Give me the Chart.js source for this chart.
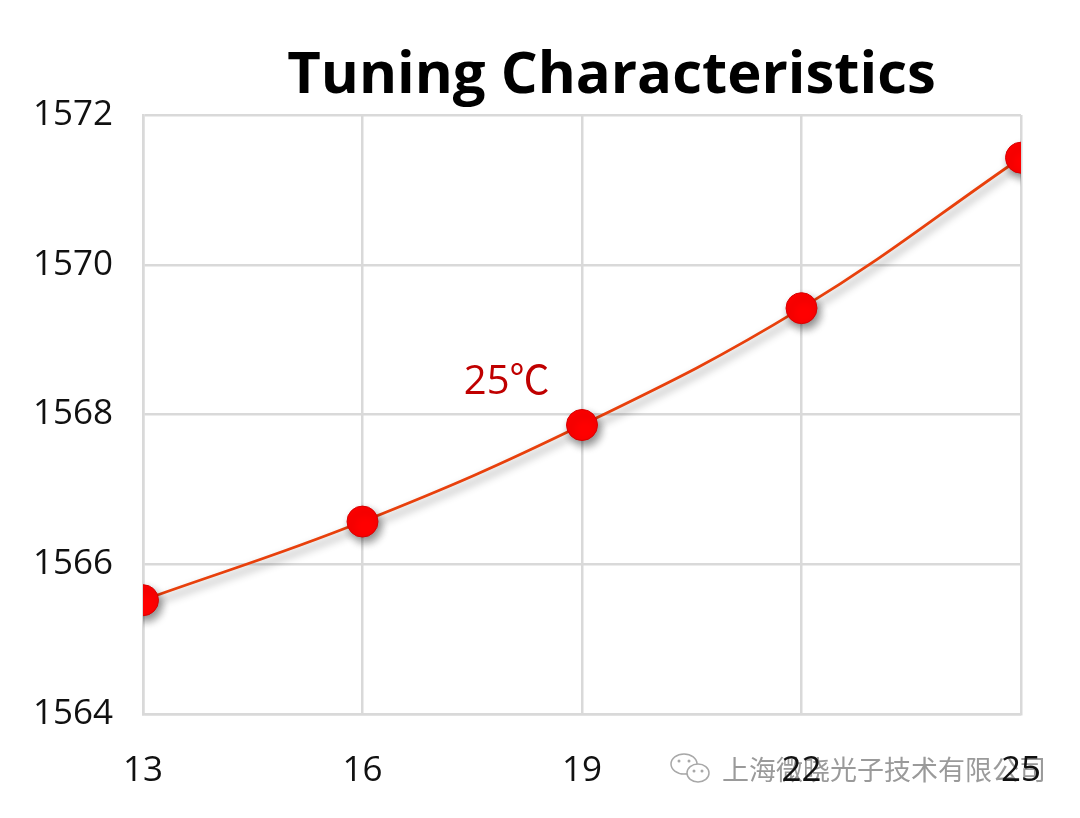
<!DOCTYPE html>
<html>
<head>
<meta charset="utf-8">
<script src="https://cdn.jsdelivr.net/npm/chart.js@4"></script>
<style>
  body { margin: 0; background: #fff; }
  canvas { display: block; }
</style>
</head>
<body>
<canvas id="myChart" width="1080" height="818"></canvas>
<script>
// tuning current (x) vs wavelength (y)
var xValues = [13, 16, 19, 22, 25];
var yValues = [1565.52, 1566.57, 1567.86, 1569.42, 1571.43];
var xTicks = [13, 16, 19, 22, 25];
var yTicks = [1564, 1566, 1568, 1570, 1572];
var titleText = 'Tuning Characteristics';
var seriesLabel = '25℃';
var seriesLabelAt = [17.97, 1568.42];
var watermark = '上海微晓光子技术有限公司';

var points = [];
for (var i = 0; i < xValues.length; i++) {
    points.push({ x: xValues[i], y: yValues[i] });
}

var shadowPlugin = {
    id: 'shadow',
    beforeDatasetsDraw: function (chart) {
        var c = chart.ctx;
        c.save();
        c.shadowColor = 'rgba(0,0,0,0.45)';
        c.shadowBlur = 8;
        c.shadowOffsetX = 3;
        c.shadowOffsetY = 5;
    },
    afterDatasetsDraw: function (chart) {
        chart.ctx.restore();
    }
};

// watermark goes under everything else
var watermarkPlugin = {
    id: 'watermark',
    beforeDraw: function (chart) {
        var c = chart.ctx;
        var wx = 722, wy = 770;
        c.save();
        c.font = '27px "Noto Sans CJK SC"';
        c.textAlign = 'left';
        c.textBaseline = 'middle';
        c.fillStyle = '#9a9a9a';
        c.fillText(watermark, wx, wy);
        // wechat-like icon
        c.strokeStyle = '#a8a8a8';
        c.lineWidth = 1.5;
        c.beginPath();
        c.ellipse(wx - 38, wy - 6, 13, 10, 0, 0, Math.PI * 2);
        c.stroke();
        c.beginPath();
        c.ellipse(wx - 24, wy + 3, 11, 9, 0, 0, Math.PI * 2);
        c.fillStyle = '#fff';
        c.fill();
        c.stroke();
        c.fillStyle = '#a8a8a8';
        [[-43, -9], [-33, -9], [-28, 1], [-20, 1]].forEach(function (d) {
            c.beginPath();
            c.arc(wx + d[0], wy + d[1], 1.5, 0, Math.PI * 2);
            c.fill();
        });
        c.restore();
    }
};

var textPlugin = {
    id: 'texts',
    afterDraw: function (chart) {
        var c = chart.ctx;
        var area = chart.chartArea;
        c.save();
        // title
        c.fillStyle = '#000';
        c.font = 'bold 58px "Open Sans"';
        c.textAlign = 'center';
        c.textBaseline = 'alphabetic';
        c.fillText(titleText, (area.left + chart.width) / 2, 93);

        // series label
        var sx = chart.scales.x.getPixelForValue(seriesLabelAt[0]);
        var sy = chart.scales.y.getPixelForValue(seriesLabelAt[1]);
        c.fillStyle = '#c00000';
        c.font = '40px "Open Sans", "Noto Sans CJK SC"';
        c.textBaseline = 'middle';
        c.fillText(seriesLabel, sx, sy);
        c.restore();
    }
};

var ctx = document.getElementById('myChart').getContext('2d');
var myChart = new Chart(ctx, {
    type: 'line',
    data: {
        datasets: [
            {
                label: seriesLabel,
                data: points,
                borderColor: '#e8400c',
                borderWidth: 2.8,
                tension: 0.4,
                pointRadius: 15.5,
                pointBackgroundColor: '#ff0000',
                pointBorderColor: '#d80000',
                pointBorderWidth: 1,
            },
        ],
    },
    options: {
        responsive: false,
        animation: false,
        layout: { padding: { left: 33, right: 59, top: 115, bottom: 24 } },
        plugins: {
            legend: { display: false },
            tooltip: { enabled: false },
        },
        scales: {
            x: {
                type: 'linear',
                min: 13,
                max: 25,
                afterBuildTicks: function (axis) {
                    axis.ticks = xTicks.map(function (v) { return { value: v }; });
                },
                afterFit: function (axis) { axis.height = 80; },
                grid: { color: '#d9d9d9', lineWidth: 2.5, drawTicks: false },
                border: { color: '#d9d9d9', width: 2.5 },
                ticks: {
                    color: '#111', padding: 36, maxRotation: 0,
                    font: { family: 'Open Sans', size: 35 },
                    callback: function (v) { return String(v); },
                },
            },
            y: {
                min: 1564,
                max: 1572,
                afterBuildTicks: function (axis) {
                    axis.ticks = yTicks.map(function (v) { return { value: v }; });
                },
                afterFit: function (axis) { axis.width = 110; },
                grid: { color: '#d9d9d9', lineWidth: 2.5, drawTicks: false },
                border: { color: '#d9d9d9', width: 2.5 },
                ticks: {
                    color: '#111', padding: 30,
                    font: { family: 'Open Sans', size: 35 },
                    callback: function (v) { return String(v); },
                },
            },
        },
    },
    plugins: [watermarkPlugin, shadowPlugin, textPlugin],
});
</script>
</body>
</html>
